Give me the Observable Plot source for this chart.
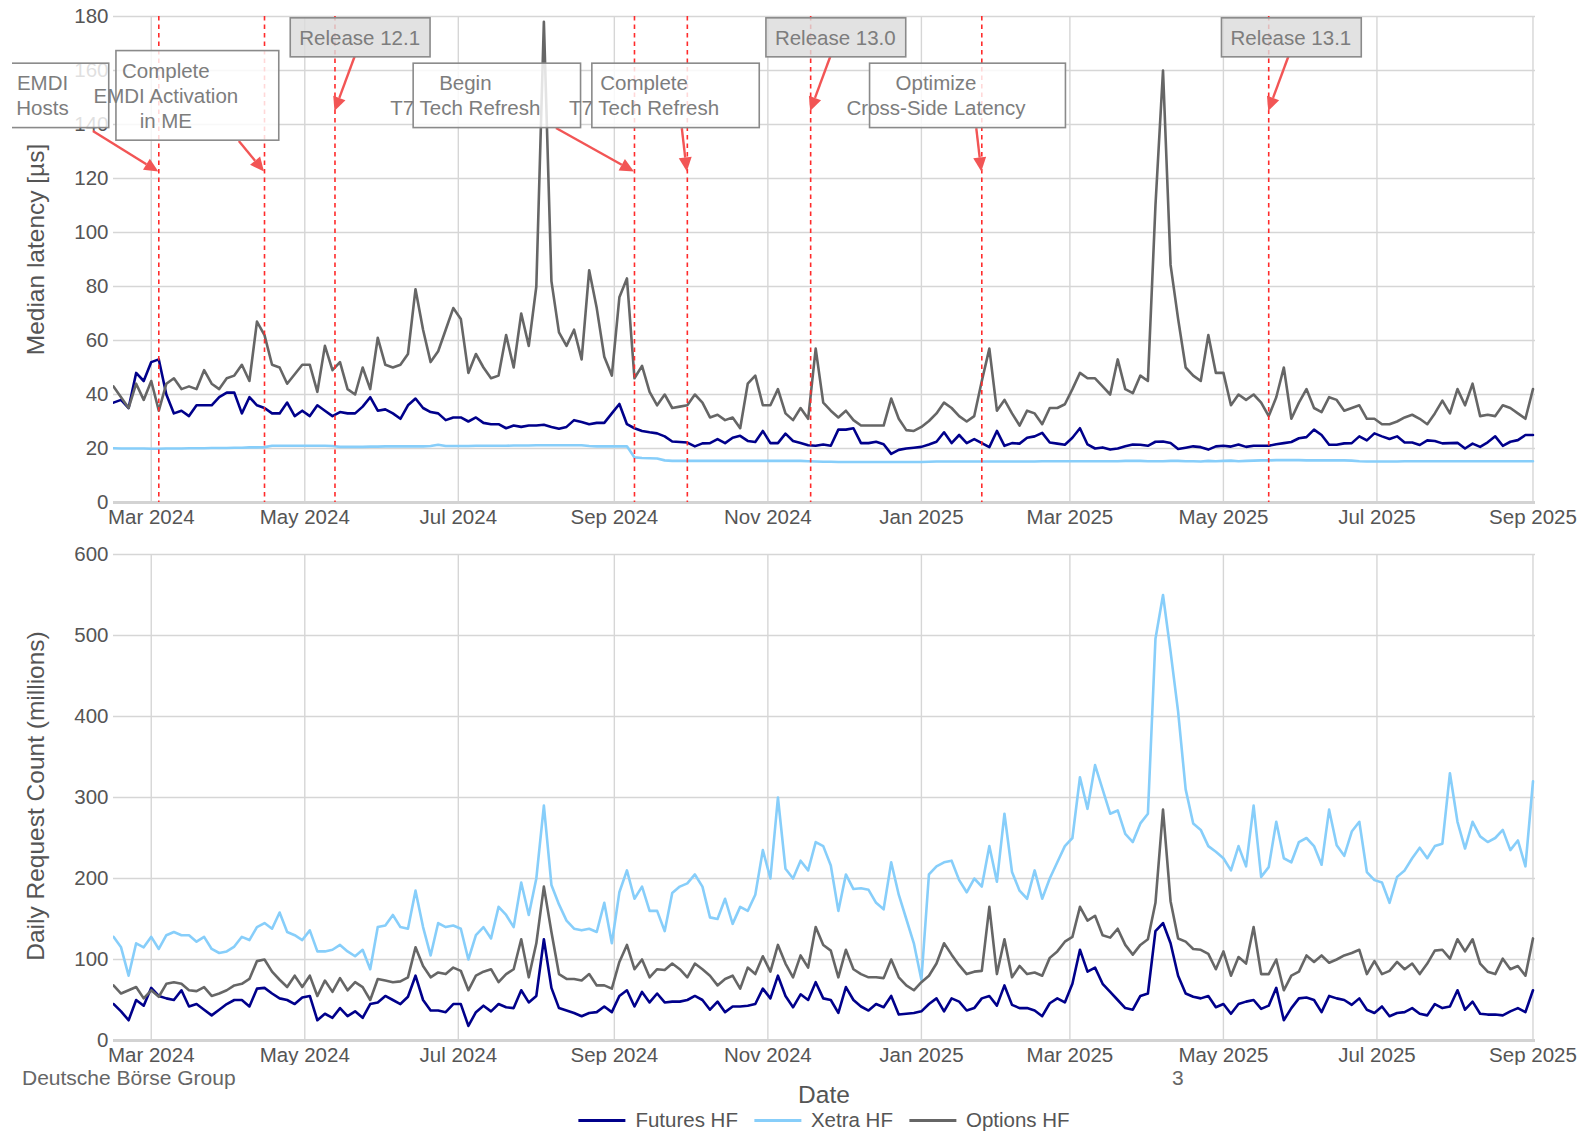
<!DOCTYPE html>
<html>
<head>
<meta charset="utf-8">
<script src="https://cdn.jsdelivr.net/npm/d3@7"></script>
<script src="https://cdn.jsdelivr.net/npm/@observablehq/plot@0.6"></script>
<style>
  body { margin: 0; background: #ffffff; }
  #wrap { position: relative; width: 1581px; height: 1131px; font-family: "Liberation Sans", Arial, sans-serif; color: #555; overflow: hidden; }
  #top, #bottom { position: absolute; left: 0; }
  #top { top: 0; }
  #bottom { top: 530px; }
  .cap { position: absolute; font-size: 21px; line-height: 1; color: #666; white-space: nowrap; }
  #xtitle { position: absolute; left: 824px; top: 1083px; transform: translateX(-50%); font-size: 24.5px; line-height: 1; color: #555; }
  #legend { position: absolute; left: 824px; top: 1110px; transform: translateX(-50%); display: flex; align-items: center; font-size: 20.5px; line-height: 1; color: #555; white-space: nowrap; }
  #legend .item { display: flex; align-items: center; margin: 0 8px; }
  #legend .sw { display: inline-block; width: 47px; height: 3.5px; margin-right: 10px; }
</style>
</head>
<body>
<div id="wrap">
  <div id="top"></div>
  <div id="bottom"></div>
  <div class="cap" style="left:22px; top:1067px;">Deutsche Börse Group</div>
  <div class="cap" style="left:1172px; top:1067px;">3</div>
  <div id="xtitle">Date</div>
  <div id="legend"></div>
</div>
<script>
// ---------------- DATA ----------------
const gridStart = "2024-02-15";
const gridStepDays = 3;
const domainEnd = "2025-09-02";

const xTickDates = ["2024-03-01","2024-05-01","2024-07-01","2024-09-01","2024-11-01",
                    "2025-01-01","2025-03-01","2025-05-01","2025-07-01","2025-09-01"];
const yTicksLatency = [0, 20, 40, 60, 80, 100, 120, 140, 160, 180];
const yTicksCount = [0, 100, 200, 300, 400, 500, 600];

const seriesNames = ["Futures HF", "Xetra HF", "Options HF"];

// Median latency [µs]
const futuresLatency = [
  37, 38, 35, 48, 45, 52, 53, 40, 33, 34,
  32, 36, 36, 36, 39, 40.7, 40.7, 33, 39, 36,
  35, 33, 33, 37, 32, 34, 32, 36, 34, 32,
  33.5, 33, 33, 35.5, 39, 34, 34.5, 33, 31, 36,
  38.5, 35, 33.5, 33, 30.5, 31.5, 31.5, 30, 31.5, 29.5,
  29, 29, 27.5, 28.5, 28, 28.5, 28.5, 28.8, 28, 27.3,
  28, 30.5, 29.8, 29, 29.5, 29.5, 33, 36.5, 29, 27.5,
  26.5, 26, 25.6, 24.5, 22.6, 22.4, 22.2, 20.8, 21.9, 22,
  23.5, 22, 24, 24.7, 22.8, 22.4, 26.5, 22, 22, 25.5,
  22.8, 22, 21.2, 21, 21.5, 21, 27, 27, 27.5, 22,
  22, 22.5, 21.6, 18, 19.5, 20, 20.3, 20.6, 21.5, 22.5,
  26, 22, 25, 22, 23.5, 22, 20.5, 26.5, 21, 22,
  21.8, 24, 24.5, 25.8, 22.2, 21.8, 21.4, 24, 27.5, 21.5,
  20, 20.4, 19.6, 20, 20.8, 21.5, 21.4, 21, 22.5, 22.6,
  22, 19.8, 20.3, 20.8, 20.5, 19.6, 20.8, 21, 20.7, 21.5,
  20.6, 21, 21, 21, 21.6, 22, 22.4, 23.8, 24.2, 27,
  25, 21.4, 21.4, 21.9, 22, 24.5, 23, 25.6, 24.5, 23.5,
  24.5, 22.2, 22.2, 21.3, 23, 22.8, 21.9, 22, 22.1, 20,
  21.8, 20.6, 22.3, 24.5, 21, 22.5, 23.1, 25, 25
];
const xetraLatency = [
  20.1, 20.0, 20.0, 20.0, 20.0, 19.9, 19.9, 20.0, 20.0, 20.0,
  20.1, 20.1, 20.1, 20.2, 20.2, 20.2, 20.3, 20.3, 20.4, 20.4,
  20.5, 21.0, 21.0, 21.0, 21.0, 21.0, 21.0, 21.0, 21.0, 20.9,
  20.6, 20.6, 20.6, 20.6, 20.7, 20.7, 20.8, 20.8, 20.8, 20.8,
  20.8, 20.8, 20.9, 21.4, 20.9, 20.9, 20.9, 20.9, 21.0, 21.0,
  21.0, 21.0, 21.0, 21.1, 21.1, 21.1, 21.2, 21.2, 21.2, 21.2,
  21.2, 21.2, 21.2, 20.9, 20.8, 20.8, 20.8, 20.8, 20.8, 16.7,
  16.5, 16.4, 16.3, 15.6, 15.4, 15.4, 15.4, 15.4, 15.4, 15.4,
  15.4, 15.4, 15.4, 15.4, 15.4, 15.4, 15.4, 15.4, 15.4, 15.4,
  15.4, 15.4, 15.3, 15.2, 15.1, 15.1, 15.0, 15.0, 15.0, 15.0,
  15.0, 15.0, 15.0, 15.0, 15.0, 15.0, 15.0, 15.0, 15.1, 15.2,
  15.2, 15.2, 15.2, 15.2, 15.2, 15.2, 15.2, 15.2, 15.2, 15.2,
  15.2, 15.2, 15.2, 15.3, 15.3, 15.3, 15.3, 15.3, 15.3, 15.3,
  15.3, 15.3, 15.3, 15.3, 15.4, 15.4, 15.4, 15.3, 15.3, 15.3,
  15.4, 15.4, 15.3, 15.3, 15.2, 15.4, 15.3, 15.4, 15.5, 15.3,
  15.4, 15.5, 15.6, 15.6, 15.7, 15.7, 15.7, 15.7, 15.6, 15.6,
  15.6, 15.6, 15.6, 15.6, 15.5, 15.3, 15.2, 15.2, 15.2, 15.2,
  15.2, 15.3, 15.3, 15.3, 15.3, 15.3, 15.3, 15.3, 15.3, 15.3,
  15.3, 15.3, 15.3, 15.3, 15.3, 15.3, 15.3, 15.3, 15.3
];
const optionsLatency = [
  43, 39, 35, 44, 38, 45, 34, 44, 46, 42,
  43, 42, 49, 44, 42, 46, 47, 51, 45, 67,
  62, 51, 50, 44, 47.5, 51, 51, 41, 58, 49,
  52, 42, 40, 50, 42, 61, 51, 50, 51, 55,
  79, 64, 52, 56, 64, 72, 68, 48, 55, 50,
  46, 47, 62, 50, 70, 58, 80, 178, 82, 63,
  58, 64, 53, 86, 72, 54, 47, 76, 83, 46,
  50.6, 41, 36, 40, 35, 35.5, 36, 40, 37, 31.5,
  32.5, 30.5, 31.5, 27.5, 44, 47, 36, 36, 42, 33,
  30.5, 35, 31, 57, 37, 34, 31.5, 34, 30.5, 28.5,
  28.5, 28.5, 28.5, 38.5, 31, 26.8, 26.5, 28, 30.2, 33,
  37, 35, 32, 30, 32, 45, 57, 34, 38, 33,
  28.5, 34, 33, 29, 35, 35, 36.4, 42, 48, 46,
  46, 43, 40, 53, 42, 40.5, 47, 45, 110, 160,
  88, 68, 50, 47, 45, 62, 48, 48, 36, 40,
  38, 40, 37, 32, 39, 50, 31, 37, 42, 35,
  33.5, 39, 38, 34, 35, 36, 31, 31, 29, 29,
  30, 31.5, 32.5, 31, 29, 33, 37.7, 33, 42, 36,
  44, 32, 32.5, 32, 36, 35, 33, 31, 42
];

// Daily request count (millions)
const futuresCount = [
  45, 36, 25, 50, 43, 65, 55, 52, 50, 62,
  42, 45, 38, 31, 38, 45, 50, 50, 42, 64,
  65, 58, 52, 50, 45, 53, 55, 25, 33, 28,
  40, 30, 36, 28, 45, 47, 55, 50, 45, 54,
  80, 50, 37, 37, 35, 45, 45, 18, 35, 43,
  36, 45, 41, 40, 62, 47, 55, 125, 65, 40,
  37, 34, 30, 34, 35, 42, 35, 55, 62, 42,
  60, 47, 58, 47, 48, 48, 50, 55, 50, 38,
  48, 35, 42, 42, 43, 45, 64, 52, 80, 55,
  41, 57, 50, 72, 52, 50, 34, 66, 50, 42,
  37, 45, 41, 55, 32, 33, 34, 36, 45, 52,
  36, 52, 48, 37, 40, 52, 55, 43, 68, 44,
  40, 40, 37, 30, 46, 52, 47, 70, 112, 85,
  90, 70, 60, 50, 40, 38, 55, 58, 135, 145,
  120, 80, 58, 54, 52, 55, 41, 45, 33, 45,
  48, 50, 39, 43, 65, 25, 40, 52, 53, 50,
  35, 55, 52, 50, 44, 52, 38, 34, 42, 30,
  34, 35, 40, 33, 31, 45, 40, 42, 62, 38,
  48, 33, 32, 32, 31, 36, 40, 35, 62
];
const xetraCount = [
  128, 115, 80, 120, 115, 128, 113, 130, 134, 130,
  130, 122, 128, 113, 108, 110, 116, 128, 124, 140,
  145, 138, 158, 134, 130, 124, 136, 110, 110, 112,
  118, 110, 104, 112, 88, 140, 142, 155, 140, 138,
  185, 140, 105, 145, 140, 142, 138, 100, 130, 140,
  126, 165, 155, 140, 195, 155, 200, 290, 192, 168,
  148, 138, 136, 138, 134, 170, 120, 183, 210, 175,
  190, 160, 160, 135, 182, 190, 194, 205, 190, 152,
  150, 175, 144, 165, 160, 180, 235, 200, 300, 212,
  200, 222, 210, 245, 240, 216, 160, 205, 187, 188,
  186, 170, 162, 220, 180, 150, 120, 75, 205, 215,
  220, 222, 198, 183, 200, 190, 240, 196, 280, 208,
  185, 175, 210, 175, 200, 220, 240, 250, 325, 286,
  340, 310, 280, 284, 255, 245, 268, 280, 496, 550,
  480, 406, 310, 268, 260, 240, 233, 225, 210, 240,
  215, 290, 202, 214, 270, 225, 220, 245, 250, 240,
  217, 285, 241, 228, 258, 270, 208, 198, 195, 170,
  202, 210, 225, 238, 225, 240, 243, 330, 270, 237,
  270, 252, 245, 250, 260, 235, 247, 215, 320
];
const optionsCount = [
  68, 58, 62, 66, 52, 62, 54, 70, 72, 70,
  62, 61, 66, 55, 58, 62, 68, 70, 76, 98,
  100, 85, 75, 66, 80, 66, 80, 55, 74, 60,
  77, 62, 72, 66, 50, 76, 74, 72, 73, 78,
  115, 92, 78, 84, 82, 90, 86, 62, 80, 85,
  88, 72, 82, 88, 125, 78, 120, 190, 134, 82,
  76, 76, 74, 82, 68, 68, 64, 97, 118, 88,
  100, 78, 88, 87, 95, 88, 78, 95, 88, 80,
  68, 76, 80, 64, 90, 82, 104, 85, 118, 95,
  78, 105, 90, 140, 118, 111, 78, 112, 88, 82,
  78, 78, 77, 100, 78, 68, 62, 72, 80, 95,
  120, 106, 93, 82, 85, 86, 165, 82, 125, 78,
  92, 82, 84, 80, 102, 110, 122, 128, 165, 148,
  154, 130, 127, 138, 118, 106, 118, 125, 170, 285,
  172, 126, 122, 113, 112, 107, 88, 110, 80, 103,
  95, 140, 82, 82, 100, 62, 80, 85, 105, 97,
  105, 96, 100, 105, 108, 112, 82, 98, 82, 86,
  97, 88, 95, 82, 95, 111, 112, 101, 125, 110,
  125, 95, 85, 82, 101, 88, 92, 80, 126
];

// Event annotations (top panel)
const eventDates = ["2024-03-04","2024-04-15","2024-05-13","2024-09-09","2024-09-30","2024-11-18","2025-01-25","2025-05-19"];
const eventLabels = ["EMDI\nHosts", "Complete\nEMDI Activation\nin ME", "Release 12.1", "Begin\nT7 Tech Refresh",
                     "Complete\nT7 Tech Refresh", "Release 13.0", "Optimize\nCross-Side Latency", "Release 13.1"];
const eventKinds = ["change","change","release","change","change","release","change","release"];
const labelDates = ["2024-01-18","2024-03-07","2024-05-23","2024-07-04","2024-09-13","2024-11-28","2025-01-07","2025-05-28"];
const labelValues = [150.6, 150.6, 172.1, 150.6, 150.6, 172.1, 150.6, 172.1];
const arrowFromDates = ["2024-02-07","2024-04-05","2024-05-21","2024-08-09","2024-09-28","2024-11-26","2025-01-23","2025-05-27"];
const arrowFromValues = [137.4, 133.7, 165, 138.5, 138.5, 165, 138.5, 165];
const arrowToValues = [122.4, 122.4, 144.8, 122.4, 122.4, 144.8, 122.4, 144.8];

// ---------------- STYLE ----------------
const seriesColors = ["#00008b", "#87cefa", "#666666"];
const gridColor = "#d6d6d6";
const fontFamily = '"Liberation Sans", Arial, sans-serif';

// ---------------- BUILD ----------------
const parse = d3.utcParse("%Y-%m-%d");
const start = parse(gridStart);
const dates = futuresLatency.map((_, i) => d3.utcDay.offset(start, gridStepDays * i));
const xDomain = [start, parse(domainEnd)];
const xTicks = xTickDates.map(parse);
const fmt = d3.utcFormat("%b %Y");

const latencyRows = dates.map((d, i) => ({date: d, s0: futuresLatency[i], s1: xetraLatency[i], s2: optionsLatency[i]}));
const countRows = dates.map((d, i) => ({date: d, s0: futuresCount[i], s1: xetraCount[i], s2: optionsCount[i]}));

function yTitle(text, dy) {
  return (index, scales, values, dims) => {
    const cy = (dims.marginTop + dims.height - dims.marginBottom) / 2 + dy;
    const cx = dims.marginLeft - 78;
    const g = d3.create("svg:g").attr("aria-label", "y-axis title");
    g.append("text")
      .attr("transform", `translate(${cx},${cy}) rotate(-90)`)
      .attr("text-anchor", "middle")
      .attr("dominant-baseline", "central")
      .attr("font-size", 24.5)
      .attr("fill", "#555")
      .text(text);
    return g.node();
  };
}

function baseMarks(yTicks) {
  return [
    Plot.gridX(xTicks, {stroke: gridColor, strokeOpacity: 1, strokeWidth: 1.4}),
    Plot.gridY(yTicks, {stroke: gridColor, strokeOpacity: 1, strokeWidth: 1.4}),
    Plot.ruleY([0], {stroke: "#d3d3d3", strokeWidth: 2.8}),
    Plot.axisX(xTicks, {tickFormat: fmt, tickSize: 0, tickPadding: 7, label: null, fill: "#555"}),
    Plot.axisY(yTicks, {tickSize: 0, tickPadding: 5, label: null, fill: "#555"})
  ];
}

function seriesMarks(rows) {
  return ["s0", "s1", "s2"].map((key, k) =>
    Plot.lineY(rows, {x: "date", y: key, stroke: seriesColors[k], strokeWidth: 2.6, strokeLinejoin: "round", clip: true})
  );
}

function annotationLayer(index, scales, values, dims) {
  const x = scales.x, y = scales.y;
  const g = d3.create("svg:g").attr("aria-label", "annotations");
  g.append("clipPath").attr("id", "ann-clip").append("rect")
    .attr("x", 12).attr("y", 0).attr("width", dims.width - 12).attr("height", dims.height);
  const layer = g.append("g").attr("clip-path", "url(#ann-clip)");
  const ctx = document.createElement("canvas").getContext("2d");
  ctx.font = '20.5px "Liberation Sans", Arial, sans-serif';
  const arrowColor = "#f25555";
  const lineH = 25.2;

  eventDates.forEach((ed, k) => {
    const x1 = x(parse(arrowFromDates[k])), y1 = y(arrowFromValues[k]);
    const x2 = x(parse(ed)), y2 = y(arrowToValues[k]);
    const a = Math.atan2(y2 - y1, x2 - x1);
    const hl = 14, hw = 6.5;
    const bx = x2 - hl * Math.cos(a), by = y2 - hl * Math.sin(a);
    layer.append("line").attr("x1", x1).attr("y1", y1).attr("x2", bx).attr("y2", by)
      .attr("stroke", arrowColor).attr("stroke-width", 2.4);
    layer.append("path")
      .attr("d", `M${x2},${y2}L${bx - hw * Math.sin(a)},${by + hw * Math.cos(a)}L${bx + hw * Math.sin(a)},${by - hw * Math.cos(a)}Z`)
      .attr("fill", arrowColor);
  });

  eventDates.forEach((ed, k) => {
    const lines = eventLabels[k].split("\n");
    const cx = x(parse(labelDates[k])), cy = y(labelValues[k]);
    const w = d3.max(lines, s => ctx.measureText(s).width);
    const L = cx - w / 2, R = cx + w / 2;
    const multi = lines.length > 1;
    let bx0 = multi ? L + 23 : L - 9;
    const bx1 = multi ? R + 40 : R + 10;
    if (cx < dims.marginLeft) bx0 = -60;
    const h = multi ? lines.length * lineH + 14 : 39;
    const release = eventKinds[k] === "release";
    layer.append("rect")
      .attr("x", bx0).attr("y", cy - h / 2).attr("width", bx1 - bx0).attr("height", h)
      .attr("fill", release ? "#dcdcdc" : "#ffffff").attr("fill-opacity", 0.82)
      .attr("stroke", "#8a8a8a").attr("stroke-width", 1.6);
    const t = layer.append("text").attr("text-anchor", "middle").attr("fill", "#7d7d7d")
      .attr("font-size", 20.5);
    lines.forEach((s, j) => {
      t.append("tspan").attr("x", cx).attr("y", cy + (j - (lines.length - 1) / 2) * lineH + 7.4).text(s);
    });
  });
  return g.node();
}

const topPlot = Plot.plot({
  width: 1581, height: 530,
  marginTop: 16, marginBottom: 28, marginLeft: 113, marginRight: 46,
  x: {type: "utc", domain: xDomain},
  y: {domain: [0, 180]},
  style: {fontFamily, fontSize: "20.5px", color: "#555", background: "transparent"},
  marks: [
    ...baseMarks(yTicksLatency),
    ...seriesMarks(latencyRows),
    Plot.ruleX(eventDates.map(parse), {stroke: "#ff2b2b", strokeWidth: 1.6, strokeDasharray: "4.5,4"}),
    annotationLayer,
    yTitle("Median latency [µs]", -9.5)
  ]
});
document.getElementById("top").append(topPlot);

const bottomPlot = Plot.plot({
  width: 1581, height: 535,
  marginTop: 24, marginBottom: 25, marginLeft: 113, marginRight: 46,
  x: {type: "utc", domain: xDomain},
  y: {domain: [0, 600]},
  style: {fontFamily, fontSize: "20.5px", color: "#555", background: "transparent"},
  marks: [
    ...baseMarks(yTicksCount),
    ...seriesMarks(countRows),
    yTitle("Daily Request Count (millions)", -1)
  ]
});
document.getElementById("bottom").append(bottomPlot);

// Legend
const legend = d3.select("#legend");
seriesNames.forEach((name, k) => {
  const item = legend.append("div").attr("class", "item");
  item.append("span").attr("class", "sw").style("background", seriesColors[k]);
  item.append("span").text(name);
});
</script>
</body>
</html>
